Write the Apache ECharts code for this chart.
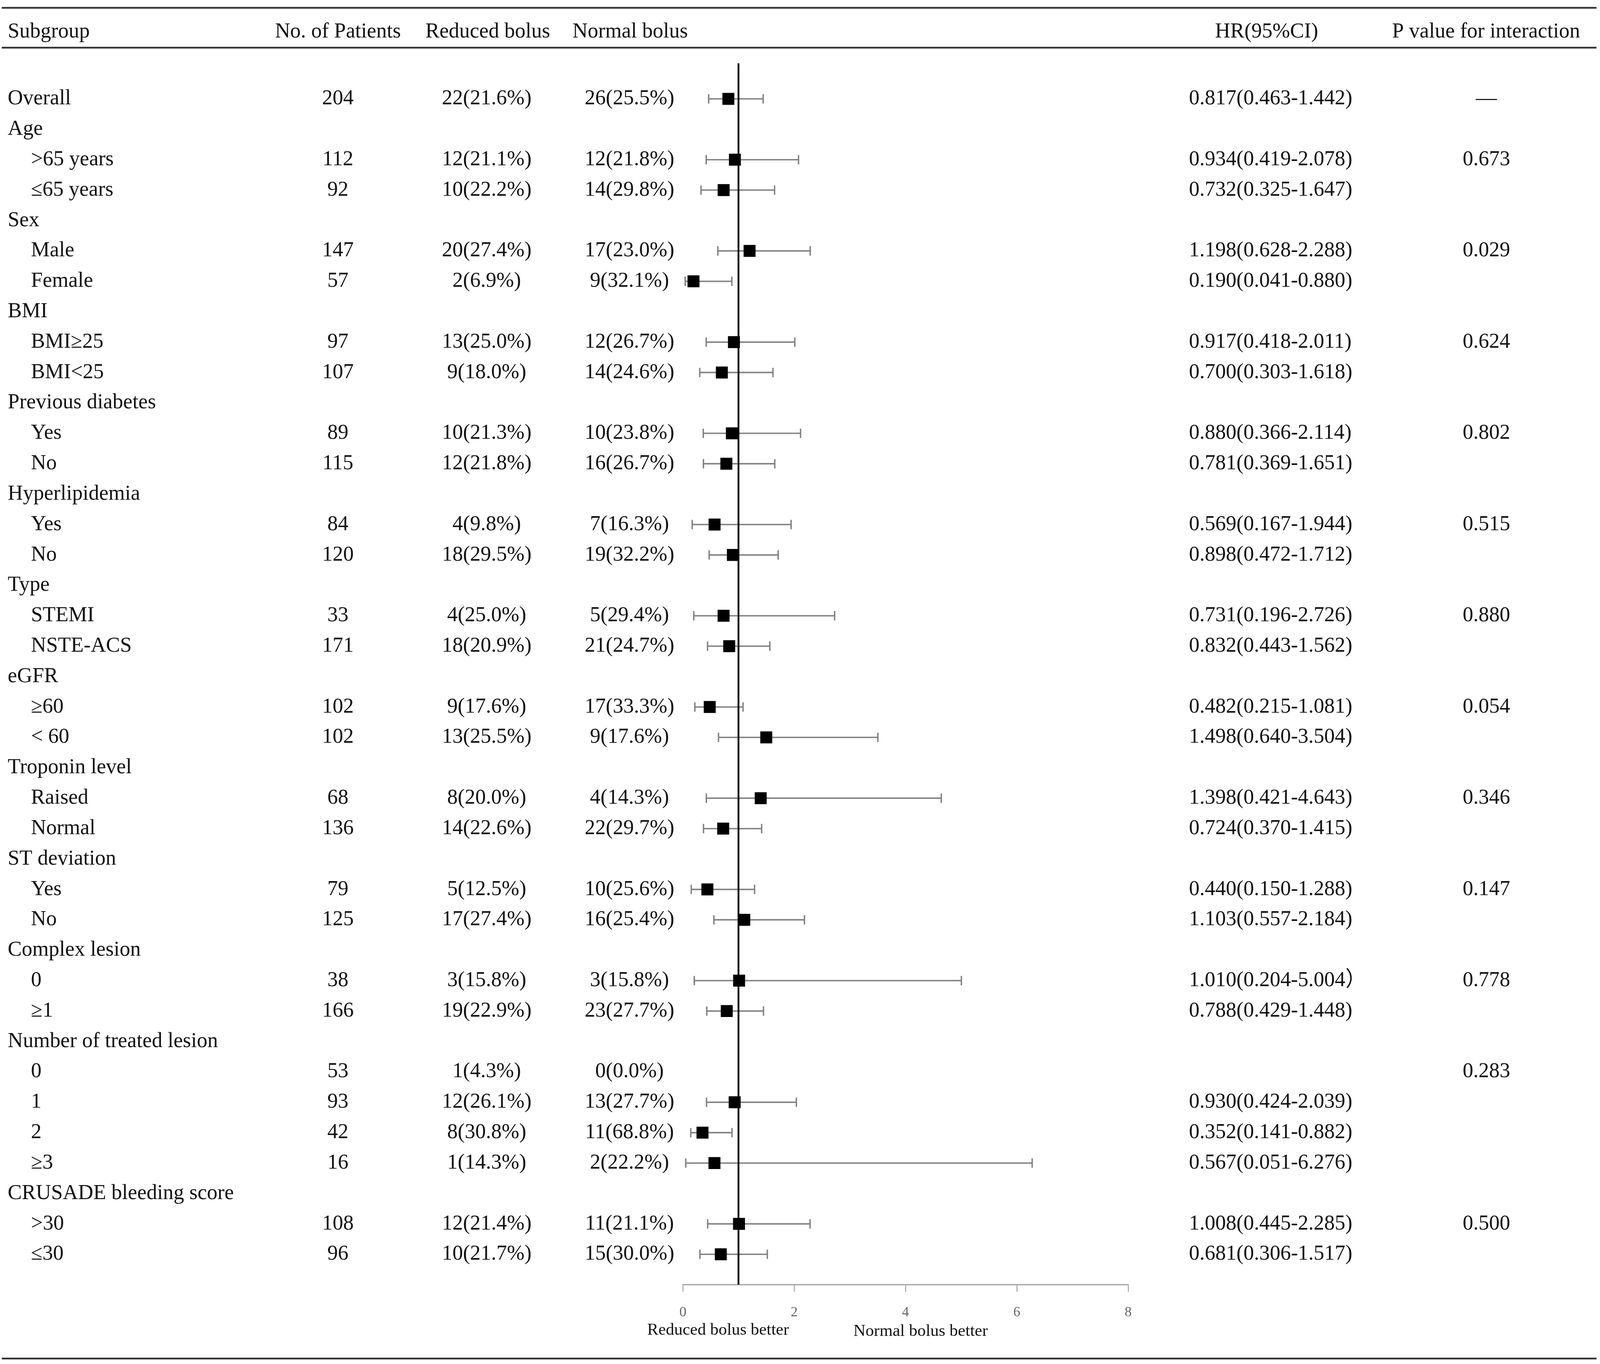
<!DOCTYPE html>
<html>
<head>
<meta charset="utf-8">
<title>Subgroup forest plot</title>
<script src="https://cdn.jsdelivr.net/npm/echarts@6/dist/echarts.min.js"></script>
<style>
    html, body {
        height: 100%;
        margin: 0;
        padding: 0;
        background: #fff;
        overflow: hidden;
    }
</style>
</head>
<body>
<div id="chart-box" style="width:100%; height:100%;"></div>
<script type="text/javascript">
    // table rows, top to bottom
    const subgroups = ["Overall", "Age", ">65 years", "≤65 years", "Sex", "Male", "Female",
        "BMI", "BMI≥25", "BMI<25", "Previous diabetes", "Yes", "No", "Hyperlipidemia", "Yes", "No",
        "Type", "STEMI", "NSTE-ACS", "eGFR", "≥60", "< 60", "Troponin level", "Raised", "Normal",
        "ST deviation", "Yes", "No", "Complex lesion", "0", "≥1", "Number of treated lesion",
        "0", "1", "2", "≥3", "CRUSADE bleeding score", ">30", "≤30"];
    const indent = [0, 0, 1, 1, 0, 1, 1, 0, 1, 1, 0, 1, 1, 0, 1, 1, 0, 1, 1, 0, 1, 1, 0, 1, 1,
        0, 1, 1, 0, 1, 1, 0, 1, 1, 1, 1, 0, 1, 1];
    const patients = [204, null, 112, 92, null, 147, 57, null, 97, 107, null, 89, 115, null, 84, 120,
        null, 33, 171, null, 102, 102, null, 68, 136, null, 79, 125, null, 38, 166, null,
        53, 93, 42, 16, null, 108, 96];
    const reducedBolus = ["22(21.6%)", "", "12(21.1%)", "10(22.2%)", "", "20(27.4%)", "2(6.9%)",
        "", "13(25.0%)", "9(18.0%)", "", "10(21.3%)", "12(21.8%)", "", "4(9.8%)", "18(29.5%)",
        "", "4(25.0%)", "18(20.9%)", "", "9(17.6%)", "13(25.5%)", "", "8(20.0%)", "14(22.6%)",
        "", "5(12.5%)", "17(27.4%)", "", "3(15.8%)", "19(22.9%)", "",
        "1(4.3%)", "12(26.1%)", "8(30.8%)", "1(14.3%)", "", "12(21.4%)", "10(21.7%)"];
    const normalBolus = ["26(25.5%)", "", "12(21.8%)", "14(29.8%)", "", "17(23.0%)", "9(32.1%)",
        "", "12(26.7%)", "14(24.6%)", "", "10(23.8%)", "16(26.7%)", "", "7(16.3%)", "19(32.2%)",
        "", "5(29.4%)", "21(24.7%)", "", "17(33.3%)", "9(17.6%)", "", "4(14.3%)", "22(29.7%)",
        "", "10(25.6%)", "16(25.4%)", "", "3(15.8%)", "23(27.7%)", "",
        "0(0.0%)", "13(27.7%)", "11(68.8%)", "2(22.2%)", "", "11(21.1%)", "15(30.0%)"];
    const hr = [0.817, null, 0.934, 0.732, null, 1.198, 0.190, null, 0.917, 0.700, null, 0.880, 0.781,
        null, 0.569, 0.898, null, 0.731, 0.832, null, 0.482, 1.498, null, 1.398, 0.724,
        null, 0.440, 1.103, null, 1.010, 0.788, null, null, 0.930, 0.352, 0.567, null, 1.008, 0.681];
    const hrLow = [0.463, null, 0.419, 0.325, null, 0.628, 0.041, null, 0.418, 0.303, null, 0.366, 0.369,
        null, 0.167, 0.472, null, 0.196, 0.443, null, 0.215, 0.640, null, 0.421, 0.370,
        null, 0.150, 0.557, null, 0.204, 0.429, null, null, 0.424, 0.141, 0.051, null, 0.445, 0.306];
    const hrHigh = [1.442, null, 2.078, 1.647, null, 2.288, 0.880, null, 2.011, 1.618, null, 2.114, 1.651,
        null, 1.944, 1.712, null, 2.726, 1.562, null, 1.081, 3.504, null, 4.643, 1.415,
        null, 1.288, 2.184, null, 5.004, 1.448, null, null, 2.039, 0.882, 6.276, null, 2.285, 1.517];
    const hrText = ["0.817(0.463-1.442)", "", "0.934(0.419-2.078)", "0.732(0.325-1.647)", "",
        "1.198(0.628-2.288)", "0.190(0.041-0.880)", "", "0.917(0.418-2.011)", "0.700(0.303-1.618)", "",
        "0.880(0.366-2.114)", "0.781(0.369-1.651)", "", "0.569(0.167-1.944)", "0.898(0.472-1.712)", "",
        "0.731(0.196-2.726)", "0.832(0.443-1.562)", "", "0.482(0.215-1.081)", "1.498(0.640-3.504)", "",
        "1.398(0.421-4.643)", "0.724(0.370-1.415)", "", "0.440(0.150-1.288)", "1.103(0.557-2.184)", "",
        "1.010(0.204-5.004）", "0.788(0.429-1.448)", "", "", "0.930(0.424-2.039)",
        "0.352(0.141-0.882)", "0.567(0.051-6.276)", "", "1.008(0.445-2.285)", "0.681(0.306-1.517)"];
    const pInteraction = ["—", "", "0.673", "", "", "0.029", "", "", "0.624", "", "", "0.802", "",
        "", "0.515", "", "", "0.880", "", "", "0.054", "", "", "0.346", "", "", "0.147", "",
        "", "0.778", "", "", "0.283", "", "", "", "", "0.500", ""];
    const headers = ["Subgroup", "No. of Patients", "Reduced bolus", "Normal bolus", "HR(95%CI)", "P value for interaction"];
    const favourLabels = ["Reduced bolus better", "Normal bolus better"];

    const chart = echarts.init(document.getElementById("chart-box"));
    // layout is measured on a 4550 x 3491 page; scale to whatever we actually got
    const sx = chart.getWidth() / 4550, sy = chart.getHeight() / 3491;
    const sf = Math.min(sx, sy);
    const serif = '"Liberation Serif", "Noto Sans CJK SC", serif';
    const FONT = Math.round(60 * sf) + "px " + serif;

    function txt(x, y, text, align, font) {
        return {
            type: "text", x: x, y: y,
            style: {
                text: text, font: font || FONT, fill: "#111",
                align: align, textAlign: align,
                verticalAlign: "middle", textVerticalAlign: "middle"
            }
        };
    }

    // one table row of text, y taken from the forest's row scale
    function tableRow(params, api) {
        const i = api.value(1);
        const y = api.coord([0, i])[1];
        const kids = [txt((indent[i] ? 88 : 22) * sx, y, subgroups[i], "left")];
        if (patients[i] != null) kids.push(txt(961 * sx, y, String(patients[i]), "center"));
        if (reducedBolus[i]) kids.push(txt(1384 * sx, y, reducedBolus[i], "center"));
        if (normalBolus[i]) kids.push(txt(1790 * sx, y, normalBolus[i], "center"));
        if (hrText[i]) kids.push(txt(3381 * sx, y, hrText[i], "left"));
        if (pInteraction[i]) kids.push(txt(4227 * sx, y, pInteraction[i], "center"));
        return { type: "group", children: kids };
    }

    function forestItem(params, api) {
        const row = api.value(1);
        const p = api.coord([api.value(0), row]);
        const lo = api.coord([api.value(2), row])[0];
        const hi = api.coord([api.value(3), row])[0];
        const cap = 12 * sy, box = 34 * sf;
        const whisker = { stroke: "#808080", lineWidth: 4 * sf };
        return {
            type: "group",
            children: [
                { type: "line", shape: { x1: lo, y1: p[1], x2: hi, y2: p[1] }, style: whisker },
                { type: "line", shape: { x1: lo, y1: p[1] - cap, x2: lo, y2: p[1] + cap }, style: whisker },
                { type: "line", shape: { x1: hi, y1: p[1] - cap, x2: hi, y2: p[1] + cap }, style: whisker },
                { type: "rect", shape: { x: p[0] - box / 2, y: p[1] - box / 2, width: box, height: box }, style: { fill: "#000" } }
            ]
        };
    }

    const forestData = [];
    hr.forEach((v, i) => {
        if (v != null) forestData.push([v, i, hrLow[i], hrHigh[i]]);
    });
    const rowData = subgroups.map((s, i) => [0, i]);

    const rule = y => ({
        type: "line", shape: { x1: 5 * sx, y1: y * sy, x2: 4540 * sx, y2: y * sy },
        style: { stroke: "#333", lineWidth: 5 * sf }
    });
    const headerX = [22, 961, 1387, 1792, 3602, 4226];
    const headerAlign = ["left", "center", "center", "center", "center", "center"];
    const smallFont = Math.round(48 * sf) + 'px "Liberation Serif", serif';

    const option = {
        animation: false,
        backgroundColor: "#fff",
        grid: {
            left: 1942 * sx, right: 1342 * sx, top: 162 * sy, bottom: 203 * sy,
            containLabel: false, outerBoundsMode: "none"
        },
        xAxis: {
            type: "value", min: 0, max: 8, interval: 2,
            axisLine: { show: true, onZero: false, lineStyle: { color: "#aaa", width: 4 * sf } },
            axisTick: { show: true, length: 18 * sy, lineStyle: { color: "#aaa", width: 3 * sf } },
            axisLabel: { color: "#666", fontSize: Math.round(40 * sf), margin: 54 * sy, fontFamily: "Liberation Serif" },
            splitLine: { show: false }
        },
        yAxis: {
            type: "value", min: -1.17, max: 39.0, inverse: true, show: false
        },
        graphic: [rule(20), rule(122), rule(3477)]
            .concat(headers.map((h, k) => txt(headerX[k] * sx, 82 * sy, h, headerAlign[k])))
            .concat([
                txt(2042 * sx, 3405 * sy, favourLabels[0], "center", smallFont),
                txt(2618 * sx, 3408 * sy, favourLabels[1], "center", smallFont)
            ]),
        series: [
            {
                type: "custom",
                name: "table",
                coordinateSystem: "cartesian2d",
                clip: false,
                silent: true,
                encode: { x: 0, y: 1 },
                renderItem: tableRow,
                data: rowData
            },
            {
                type: "custom",
                name: "HR",
                coordinateSystem: "cartesian2d",
                clip: false,
                encode: { x: [0, 2, 3], y: 1 },
                renderItem: forestItem,
                data: forestData,
                markLine: {
                    silent: true,
                    symbol: ["none", "none"],
                    label: { show: false },
                    lineStyle: { color: "#000", width: 5 * sf, type: "solid" },
                    data: [{ xAxis: 1 }]
                }
            }
        ]
    };
    chart.setOption(option);
</script>
</body>
</html>
